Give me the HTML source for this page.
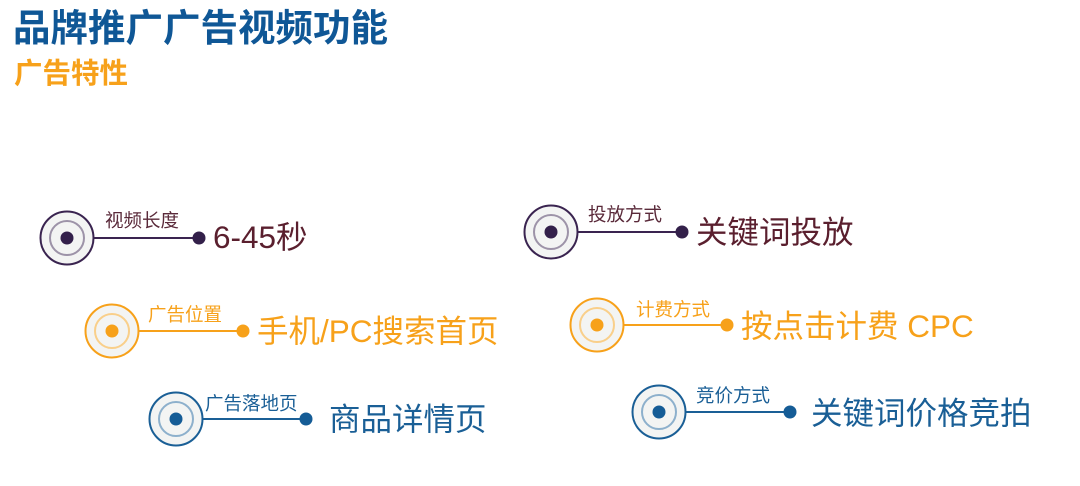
<!DOCTYPE html>
<html><head><meta charset="utf-8"><style>
html,body{margin:0;padding:0;background:#fff;}
svg{display:block;}
text{font-family:"Liberation Sans","Noto Sans CJK SC",sans-serif;}
</style></head><body>
<svg width="1080" height="486" viewBox="0 0 1080 486" xmlns="http://www.w3.org/2000/svg">
<text x="13" y="41" font-size="37.5" font-weight="bold" fill="#0f5796">品牌推广广告视频功能</text>
<text x="14" y="83" font-size="28.5" font-weight="bold" fill="#f7a11a">广告特性</text>

<g>
<circle cx="67" cy="238" r="26.5" fill="#f3f4f3" stroke="#3a2450" stroke-width="2"/>
<circle cx="67" cy="238" r="17" fill="none" stroke="#9d93a8" stroke-width="2"/>
<circle cx="67" cy="238" r="6.5" fill="#33204a"/>
<line x1="93" y1="238" x2="199" y2="238" stroke="#3a2450" stroke-width="2"/>
<circle cx="199" cy="238" r="6.5" fill="#33204a"/>
<text x="105" y="227" font-size="18.5" fill="#5a2a3a">视频长度</text>
<text x="213" y="248" font-size="31.5" fill="#5a1f2e">6-45秒</text>
</g>

<g>
<circle cx="112" cy="331" r="26.5" fill="#f3f4f3" stroke="#f7a11a" stroke-width="2"/>
<circle cx="112" cy="331" r="17" fill="none" stroke="#f9cf8a" stroke-width="2"/>
<circle cx="112" cy="331" r="6.5" fill="#f7a11a"/>
<line x1="138" y1="331" x2="243" y2="331" stroke="#f7a11a" stroke-width="2"/>
<circle cx="243" cy="331" r="6.5" fill="#f7a11a"/>
<text x="148" y="321" font-size="18.5" fill="#f7a11a">广告位置</text>
<text x="257" y="342" font-size="31.5" fill="#f7a11a">手机/PC搜索首页</text>
</g>

<g>
<circle cx="176" cy="419" r="26.5" fill="#f3f4f3" stroke="#1a5f96" stroke-width="2"/>
<circle cx="176" cy="419" r="17" fill="none" stroke="#8db0cc" stroke-width="2"/>
<circle cx="176" cy="419" r="6.5" fill="#155c96"/>
<line x1="202" y1="419" x2="306" y2="419" stroke="#1a5f96" stroke-width="2"/>
<circle cx="306" cy="419" r="6.5" fill="#155c96"/>
<text x="205" y="410" font-size="18.5" fill="#1a5f96">广告落地页</text>
<text x="329" y="430" font-size="31.5" fill="#1a5f96">商品详情页</text>
</g>

<g>
<circle cx="551" cy="232" r="26.5" fill="#f3f4f3" stroke="#3a2450" stroke-width="2"/>
<circle cx="551" cy="232" r="17" fill="none" stroke="#9d93a8" stroke-width="2"/>
<circle cx="551" cy="232" r="6.5" fill="#33204a"/>
<line x1="577" y1="232" x2="682" y2="232" stroke="#3a2450" stroke-width="2"/>
<circle cx="682" cy="232" r="6.5" fill="#33204a"/>
<text x="588" y="221" font-size="18.5" fill="#5a2a3a">投放方式</text>
<text x="696" y="243" font-size="31.5" fill="#5a1f2e">关键词投放</text>
</g>

<g>
<circle cx="597" cy="325" r="26.5" fill="#f3f4f3" stroke="#f7a11a" stroke-width="2"/>
<circle cx="597" cy="325" r="17" fill="none" stroke="#f9cf8a" stroke-width="2"/>
<circle cx="597" cy="325" r="6.5" fill="#f7a11a"/>
<line x1="623" y1="325" x2="727" y2="325" stroke="#f7a11a" stroke-width="2"/>
<circle cx="727" cy="325" r="6.5" fill="#f7a11a"/>
<text x="636" y="316" font-size="18.5" fill="#f7a11a">计费方式</text>
<text x="741" y="337" font-size="31.5" fill="#f7a11a">按点击计费 CPC</text>
</g>

<g>
<circle cx="659" cy="412" r="26.5" fill="#f3f4f3" stroke="#1a5f96" stroke-width="2"/>
<circle cx="659" cy="412" r="17" fill="none" stroke="#8db0cc" stroke-width="2"/>
<circle cx="659" cy="412" r="6.5" fill="#155c96"/>
<line x1="685" y1="412" x2="790" y2="412" stroke="#1a5f96" stroke-width="2"/>
<circle cx="790" cy="412" r="6.5" fill="#155c96"/>
<text x="696" y="402" font-size="18.5" fill="#1a5f96">竞价方式</text>
<text x="811" y="424" font-size="31.5" fill="#1a5f96">关键词价格竞拍</text>
</g>
</svg>
</body></html>
